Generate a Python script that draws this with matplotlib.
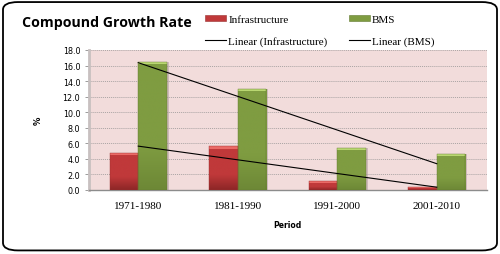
import matplotlib

matplotlib.use("Agg")
import matplotlib.pyplot as plt
import numpy as np
from matplotlib.colors import LinearSegmentedColormap
from matplotlib.patches import FancyBboxPatch, Patch, Rectangle
from matplotlib.lines import Line2D

periods = ["1971-1980", "1981-1990", "1991-2000", "2001-2010"]
infrastructure = [4.8, 5.6, 1.2, 0.4]
bms = [16.5, 13.0, 5.4, 4.6]
y_ticks = [0.0, 2.0, 4.0, 6.0, 8.0, 10.0, 12.0, 14.0, 16.0, 18.0]

RED_TOP, RED_MID, RED_BOT = "#ea6a66", "#c0393a", "#8c2626"
GREEN_TOP, GREEN_MID, GREEN_BOT = "#b9d771", "#7f9c41", "#6d8836"
PLOT_BG = "#f2dcdb"

SERIF = ["Liberation Serif", "DejaVu Serif"]
SANS = ["DejaVu Sans"]


def shade_bars(ax, bars, top, mid, bot):
    # flat body darkening near the base, thin light bevel at the top
    cmap = LinearSegmentedColormap.from_list(
        "g", [(0.0, bot), (0.35, mid), (1.0, mid)])
    grad = np.linspace(0, 1, 256).reshape(-1, 1)
    for b in bars:
        x0, y0 = b.get_x(), b.get_y()
        w, h = b.get_width(), b.get_height()
        ax.add_patch(Rectangle((x0 + 0.02, y0), w, h, fc="#a09090",
                               alpha=0.45, lw=0, zorder=2))
        im = ax.imshow(grad, cmap=cmap, origin="lower", aspect="auto",
                       extent=(x0, x0 + w, y0, y0 + h), zorder=3)
        im.set_clip_path(b)
        b.set_facecolor("none")
        bev = min(0.28, h * 0.5)
        ax.add_patch(Rectangle((x0, y0 + h - bev), w, bev, fc=top, lw=0,
                               zorder=3.5))


fig = plt.figure(figsize=(5.0, 2.55), dpi=100)
fig.patch.set_facecolor("white")

# rounded outer frame (no fill, so it does not hide the axes)
frame = FancyBboxPatch((0.006, 0.014), 0.988, 0.974, transform=fig.transFigure,
                       boxstyle="round,pad=0,rounding_size=0.03",
                       fc="none", ec="black", lw=1.3, zorder=5)
fig.patches.append(frame)

ax = fig.add_axes([0.177, 0.251, 0.796, 0.549])
ax.set_facecolor(PLOT_BG)

x = np.arange(len(periods))
w = 0.285
b1 = ax.bar(x - w / 2, infrastructure, w, color=RED_MID, edgecolor="#9a3030",
            lw=0.3, zorder=3.6)
b2 = ax.bar(x + w / 2, bms, w, color=GREEN_MID, edgecolor="#62792f",
            lw=0.3, zorder=3.6)
shade_bars(ax, b1, RED_TOP, RED_MID, RED_BOT)
shade_bars(ax, b2, GREEN_TOP, GREEN_MID, GREEN_BOT)

# linear trendlines, as in the spreadsheet
for vals in (infrastructure, bms):
    k, c = np.polyfit(x, vals, 1)
    ax.plot(x, k * x + c, color="black", lw=0.8, zorder=4)

ax.set_xlim(-0.5, len(periods) - 0.5)
ax.set_ylim(0, 18)
ax.set_yticks(y_ticks)
ax.set_yticklabels([f"{v:.1f}" for v in y_ticks], fontsize=5.8,
                   family=SANS)
ax.set_xticks(x)
ax.set_xticklabels(periods, fontsize=8, family=SERIF)
ax.yaxis.grid(True, ls=(0, (1, 1)), color="#aaa4a4", lw=0.7, zorder=1)
ax.set_axisbelow(True)
for s in ("top", "right"):
    ax.spines[s].set_visible(False)
ax.spines["left"].set_color("#c8c0c0")
ax.spines["left"].set_linewidth(2)
ax.spines["bottom"].set_color("#8c8c8c")
ax.spines["bottom"].set_linewidth(1.0)
ax.tick_params(axis="y", length=3, width=0.6, color="#8c8c8c", pad=3)
ax.tick_params(axis="x", length=0, pad=8)

ax.set_ylabel("%", fontsize=6, fontweight="bold", family=SANS, labelpad=14)
ax.set_xlabel("Period", fontsize=5.5, fontweight="bold", family=SANS,
              labelpad=7)

fig.text(0.044, 0.91, "Compound Growth Rate", fontsize=10.2,
         fontweight="bold", family=["Open Sans", "DejaVu Sans"],
         va="center", ha="left")

handles = [Patch(fc=RED_MID, ec="#9a3030", lw=0.4),
           Line2D([], [], color="black", lw=0.8),
           Patch(fc=GREEN_MID, ec="#62792f", lw=0.4),
           Line2D([], [], color="black", lw=0.8)]
labels = ["Infrastructure", "Linear (Infrastructure)", "BMS", "Linear (BMS)"]
fig.legend(handles, labels, ncol=2, loc="upper left",
           bbox_to_anchor=(0.39, 0.975), frameon=False,
           prop={"family": SERIF, "size": 8}, handlelength=1.9,
           handleheight=0.45, handletextpad=0.2, columnspacing=1.9,
           labelspacing=1.05)

fig.savefig("out.png", dpi=100)
